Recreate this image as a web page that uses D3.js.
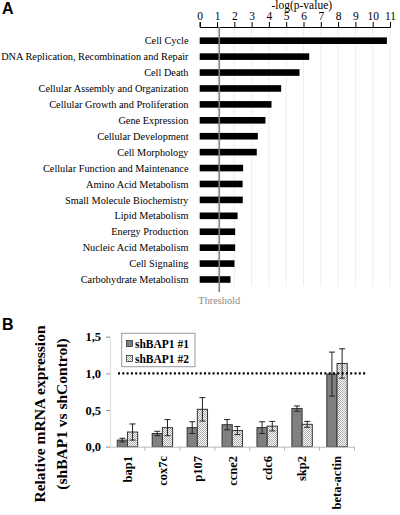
<!DOCTYPE html>
<html><head><meta charset="utf-8">
<script src="https://cdn.jsdelivr.net/npm/d3@7"></script>
<style>body{margin:0;background:#fff}svg{display:block} .sf{font-family:'Liberation Serif','Times New Roman',Times,serif}</style>
</head><body>
<svg id="c" width="400" height="515"></svg>
<script>
// Panel A data
const pathways = ["Cell Cycle","DNA Replication, Recombination and Repair","Cell Death","Cellular Assembly and Organization","Cellular Growth and Proliferation","Gene Expression","Cellular Development","Cell Morphology","Cellular Function and Maintenance","Amino Acid Metabolism","Small Molecule Biochemistry","Lipid Metabolism","Energy Production","Nucleic Acid Metabolism","Cell Signaling","Carbohydrate Metabolism"];
const logP = [10.82,6.33,5.77,4.71,4.15,3.80,3.36,3.30,2.51,2.48,2.49,2.19,2.05,2.05,2.01,1.78];
const thresholdValue = 1.13;
const xTicksA = [0,1,2,3,4,5,6,7,8,9,10,11];

// Panel B data
const genes = ["bap1","cox7c","p107","ccne2","cdc6","skp2","beta-actin"];
const seriesNames = ["shBAP1 #1","shBAP1 #2"];
const sh1 = [0.09,0.18,0.26,0.30,0.26,0.52,0.99];
const sh1err = [0.025,0.03,0.08,0.07,0.08,0.036,0.30];
const sh2 = [0.20,0.26,0.51,0.22,0.28,0.305,1.135];
const sh2err = [0.11,0.11,0.16,0.055,0.065,0.04,0.20];
const yTicksB = [0,0.5,1.0,1.5];

const svg = d3.select("#c");
const defs = svg.append("defs");
const pat = defs.append("pattern").attr("id","dots").attr("patternUnits","userSpaceOnUse").attr("width",2).attr("height",2);
pat.append("rect").attr("width",2).attr("height",2).attr("fill","#fff");
pat.append("rect").attr("width",1).attr("height",1).attr("fill","#aaa");
pat.append("rect").attr("x",1).attr("y",1).attr("width",1).attr("height",1).attr("fill","#aaa");

// Panel labels
svg.append("text").attr("x",2).attr("y",14).text("A").style("font-family","'Liberation Sans', Arial, sans-serif").attr("font-weight","bold").attr("font-size",16);
svg.append("text").attr("x",2).attr("y",330).text("B").style("font-family","'Liberation Sans', Arial, sans-serif").attr("font-weight","bold").attr("font-size",16);

// ---- Panel A ----
const xA = d3.scaleLinear().domain([0,11]).range([199.7,390]);
const yA = d3.scalePoint().domain(pathways).range([40.7,279.5]);
const axisY = 27, gridBottom = 286;
const gA = svg.append("g");
gA.selectAll("line.grid").data(xTicksA.slice(1)).join("line")
  .attr("x1",d=>xA(d)).attr("x2",d=>xA(d)).attr("y1",axisY).attr("y2",gridBottom)
  .attr("stroke","#eee").attr("stroke-width",1);
const axA = svg.append("g").attr("transform",`translate(0,${axisY})`)
  .call(d3.axisTop(xA).tickValues(xTicksA).tickSize(5).tickFormat(d3.format("d")));
axA.attr("font-family",null);
axA.select(".domain").attr("stroke","#000");
axA.selectAll(".tick line").attr("stroke","#000");
axA.selectAll(".tick text").attr("class","sf").attr("font-size",11.5).attr("fill","#000").attr("dy","0.1em");
svg.append("text").attr("class","sf").attr("x",xA(5.9)).attr("y",9).attr("text-anchor","middle")
  .attr("font-size",11.5).text("-log(p-value)");
gA.selectAll("rect.bar").data(pathways).join("rect")
  .attr("x",xA(0)).attr("y",d=>yA(d)-3.3).attr("height",6.6)
  .attr("width",(d,i)=>xA(logP[i])-xA(0)).attr("fill","#000");
const labs = gA.selectAll("text.lab").data(pathways).join("text").attr("class","sf")
  .attr("x",188.5).attr("y",d=>yA(d)).attr("dy","0.35em").attr("text-anchor","end")
  .attr("font-size",10).text(d=>d);
// fit font size so the longest label spans the same width as in the reference
const longest = d3.max(labs.nodes(), n=>n.getComputedTextLength());
const labSize = Math.min(11, 10 * 187.5 / longest);
labs.attr("font-size", labSize);
svg.append("line").attr("x1",xA(thresholdValue)).attr("x2",xA(thresholdValue))
  .attr("y1",axisY).attr("y2",292).attr("stroke","#808080").attr("stroke-width",1.6);
svg.append("text").attr("class","sf").attr("x",xA(thresholdValue)).attr("y",304).attr("text-anchor","middle")
  .attr("font-size",labSize).attr("fill","#888").text("Threshold");

// ---- Panel B ----
const xB = d3.scaleBand().domain(genes).range([110,354.5]);
const yB = d3.scaleLinear().domain([0,1.5]).range([446.7,336.7]);
const bw = 10.2;
const gB = svg.append("g");
const axBy = svg.append("g").attr("transform","translate(110,0)")
  .call(d3.axisLeft(yB).tickValues(yTicksB).tickSize(4).tickFormat(d=>d3.format(".1f")(d).replace(".",",")));
axBy.attr("font-family",null);
axBy.select(".domain").attr("stroke","#ddd");
axBy.selectAll(".tick line").attr("stroke","#999");
axBy.selectAll(".tick text").attr("class","sf").attr("font-weight","bold").attr("font-size",12.5).attr("fill","#000").attr("x",-9);
const axBx = svg.append("g").attr("transform","translate(0,446.7)")
  .call(d3.axisBottom(xB).tickSize(0).tickFormat(""));
axBx.select(".domain").attr("stroke","#bbb");
svg.selectAll("line.ctick").data(genes).join("line")
  .attr("x1",d=>xB(d)+xB.bandwidth()).attr("x2",d=>xB(d)+xB.bandwidth())
  .attr("y1",446.7).attr("y2",451).attr("stroke","#bbb");
svg.selectAll("text.gl").data(genes).join("text").attr("class","sf")
  .attr("transform",d=>`translate(${xB(d)+xB.bandwidth()/2},456) rotate(-90)`)
  .attr("text-anchor","end").attr("dy","0.35em")
  .attr("font-weight","bold").attr("font-size",12.5).text(d=>d);
svg.append("line").attr("x1",118).attr("x2",366).attr("y1",yB(1)).attr("y2",yB(1))
  .attr("stroke","#000").attr("stroke-width",2.2).attr("stroke-dasharray","2,2.3");
const series = [{v:sh1,e:sh1err,fill:"#808080",off:-bw},{v:sh2,e:sh2err,fill:"url(#dots)",off:0}];
series.forEach(s=>{
  const cx = (d)=>xB(d)+xB.bandwidth()/2 + s.off;
  gB.selectAll(null).data(genes).join("rect")
    .attr("x",d=>cx(d)).attr("width",bw)
    .attr("y",(d,i)=>yB(s.v[i])).attr("height",(d,i)=>yB(0)-yB(s.v[i]))
    .attr("fill",s.fill).attr("stroke","#333").attr("stroke-width",1);
  const eb = gB.selectAll(null).data(genes).join("g");
  eb.append("line").attr("x1",d=>cx(d)+bw/2).attr("x2",d=>cx(d)+bw/2)
    .attr("y1",(d,i)=>yB(s.v[i]+s.e[i])).attr("y2",(d,i)=>yB(Math.max(0,s.v[i]-s.e[i])))
    .attr("stroke","#222").attr("stroke-width",1);
  eb.append("line").attr("x1",d=>cx(d)+bw/2-3).attr("x2",d=>cx(d)+bw/2+3)
    .attr("y1",(d,i)=>yB(s.v[i]+s.e[i])).attr("y2",(d,i)=>yB(s.v[i]+s.e[i]))
    .attr("stroke","#222").attr("stroke-width",1);
  eb.append("line").attr("x1",d=>cx(d)+bw/2-3).attr("x2",d=>cx(d)+bw/2+3)
    .attr("y1",(d,i)=>yB(Math.max(0,s.v[i]-s.e[i]))).attr("y2",(d,i)=>yB(Math.max(0,s.v[i]-s.e[i])))
    .attr("stroke","#222").attr("stroke-width",1);
});
const lg = svg.append("g");
lg.append("rect").attr("x",121.7).attr("y",333.3).attr("width",73.3).attr("height",33.4)
  .attr("fill","#fff").attr("stroke","#999").attr("stroke-width",1);
seriesNames.forEach((n,i)=>{
  const yy = 343.5 + i*15;
  lg.append("rect").attr("x",126.5).attr("y",yy-3).attr("width",6).attr("height",6)
    .attr("fill",series[i].fill).attr("stroke","#333").attr("stroke-width",0.8);
  lg.append("text").attr("class","sf").attr("x",135).attr("y",yy).attr("dy","0.35em")
    .attr("font-weight","bold").attr("font-size",11.5).text(n);
});
const yt = svg.append("text").attr("class","sf").attr("transform","translate(0,414) rotate(-90)")
  .attr("text-anchor","middle").attr("font-weight","bold").attr("font-size",15.5);
yt.append("tspan").attr("x",0).attr("y",45).text("Relative mRNA expression");
yt.append("tspan").attr("x",0).attr("y",67).text("(shBAP1 vs shControl)");
</script>
</body></html>
